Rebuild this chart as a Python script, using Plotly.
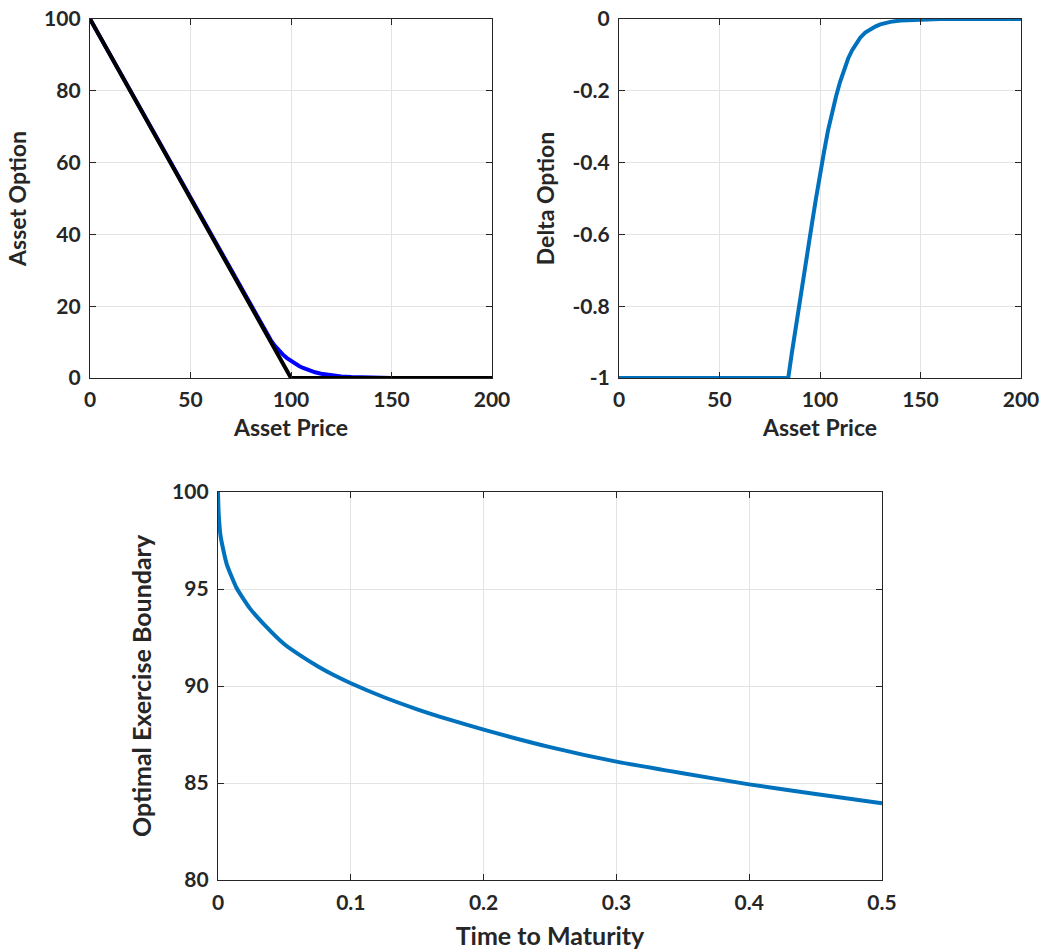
import plotly.graph_objects as go

# ---- Data ----
# Top-left: option value vs asset price
price_payoff = [0, 100, 200]
payoff = [100, 0, 0]
price_value = [0, 84, 86, 88, 90, 92, 94, 96, 98, 100, 102, 104, 106, 108, 110,
               112, 115, 120, 125, 130, 140, 150, 200]
option_value = [100, 16.0, 14.1, 12.25, 10.5, 8.95, 7.65, 6.5, 5.55, 4.75, 4.0, 3.35,
                2.8, 2.35, 1.95, 1.6, 1.2, 0.75, 0.45, 0.26, 0.09, 0.03, 0.0]

# Top-right: delta vs asset price
price_delta = [0, 84.2, 86, 88, 90, 92, 94, 96, 98, 100, 102, 104, 106, 108, 110,
               112, 114, 116, 118, 120, 122.5, 125, 127.5, 130, 135, 140, 150, 160, 200]
delta = [-1, -1, -0.93, -0.855, -0.78, -0.71, -0.64, -0.57, -0.5, -0.43, -0.37,
         -0.31, -0.26, -0.215, -0.175, -0.14, -0.11, -0.087, -0.068, -0.052,
         -0.038, -0.028, -0.021, -0.015, -0.008, -0.004, -0.001, 0, 0]

# Bottom: optimal exercise boundary vs time to maturity
tau = [0, 0.0005, 0.002, 0.0065, 0.014, 0.024, 0.035, 0.05, 0.0625, 0.075, 0.0875,
       0.1, 0.125, 0.15, 0.175, 0.2, 0.25, 0.3, 0.35, 0.4, 0.45, 0.5]
boundary = [100, 98.9, 97.7, 96.3, 95.05, 94.0, 93.15, 92.15, 91.55, 91.02, 90.55,
            90.14, 89.42, 88.8, 88.25, 87.75, 86.85, 86.1, 85.5, 84.93, 84.43, 83.95]

W, H = 1042, 951
FONT = "Lato"
AX = "#262626"
GRID = "#e3e3e3"
BLUE = "#0072BD"
LW = 4

fig = go.Figure()
fig.add_trace(go.Scatter(x=price_value, y=option_value, mode="lines",
                         line=dict(color="#0000FF", width=LW),
                         xaxis="x", yaxis="y", showlegend=False))
fig.add_trace(go.Scatter(x=price_payoff, y=payoff, mode="lines",
                         line=dict(color="#000000", width=LW),
                         xaxis="x", yaxis="y", showlegend=False))
fig.add_trace(go.Scatter(x=price_delta, y=delta, mode="lines",
                         line=dict(color=BLUE, width=LW),
                         xaxis="x2", yaxis="y2", showlegend=False))
fig.add_trace(go.Scatter(x=tau, y=boundary, mode="lines",
                         line=dict(color=BLUE, width=LW, shape="spline", smoothing=0.5),
                         xaxis="x3", yaxis="y3", showlegend=False))


def ax(domain, rng, dtick, title, anchor, tickvals=None, ticktext=None,
       standoff=8, tsize=21, ttsize=23, lstand=4):
    d = dict(domain=domain, range=rng, showline=True, linecolor=AX, linewidth=1.3,
             mirror="allticks", ticks="inside", ticklen=6, tickcolor=AX, tickwidth=1.3,
             showgrid=True, gridcolor=GRID, gridwidth=1, zeroline=False,
             ticklabelstandoff=lstand,
             tickfont=dict(family=FONT, size=tsize, color=AX, weight="bold"),
             title=dict(text=title, font=dict(family=FONT, size=ttsize, color=AX, weight="bold"),
                        standoff=standoff),
             anchor=anchor, fixedrange=True)
    if tickvals is not None:
        d.update(tickmode="array", tickvals=tickvals, ticktext=ticktext)
    else:
        d.update(tickmode="linear", tick0=rng[0], dtick=dtick)
    return d


def px_x(p):
    return p / W


def px_y(p):
    return 1 - p / H


layout = dict(
    width=W, height=H, autosize=False,
    margin=dict(l=0, r=0, t=0, b=0, pad=0, autoexpand=False),
    paper_bgcolor="white", plot_bgcolor="white",
    xaxis=ax([px_x(90), px_x(492)], [0, 200], 50, "Asset Price", "y", standoff=9, lstand=3),
    yaxis=ax([px_y(378), px_y(19)], [0, 100], 20, "Asset Option", "x", standoff=11),
    xaxis2=ax([px_x(619), px_x(1021)], [0, 200], 50, "Asset Price", "y2", standoff=9, lstand=3),
    yaxis2=ax([px_y(378), px_y(19)], [-1, 0], 0.2, "Delta Option", "x2",
              tickvals=[-1, -0.8, -0.6, -0.4, -0.2, 0],
              ticktext=["-1", "-0.8", "-0.6", "-0.4", "-0.2", "0"], standoff=11),
    xaxis3=ax([px_x(218), px_x(882)], [0, 0.5], 0.1, "Time to Maturity", "y3",
              tickvals=[0, 0.1, 0.2, 0.3, 0.4, 0.5],
              ticktext=["0", "0.1", "0.2", "0.3", "0.4", "0.5"], standoff=14,
              ttsize=25, lstand=4),
    yaxis3=ax([px_y(880), px_y(492)], [80, 100], 5, "Optimal Exercise Boundary", "x3",
              standoff=13, ttsize=25),
)
fig.update_layout(**layout)

fig.write_html("out.html", config={"displayModeBar": False},
               post_script="document.body.style.margin='0';")
